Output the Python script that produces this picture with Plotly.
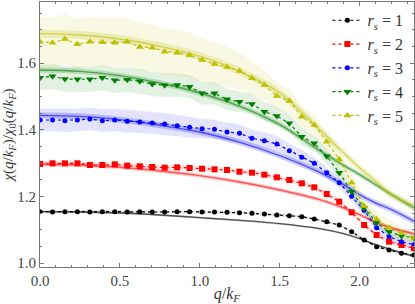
import plotly.graph_objects as go

# q/k_F grid of the QMC data points
q = [0.000, 0.078, 0.156, 0.234, 0.312, 0.390, 0.468, 0.546, 0.624, 0.702, 0.780,
     0.858, 0.936, 1.014, 1.092, 1.170, 1.248, 1.326, 1.404, 1.482, 1.560,
     1.638, 1.716, 1.794, 1.872, 1.950, 2.028, 2.106, 2.184, 2.262, 2.340]

rs1 = [1.154, 1.153, 1.154, 1.154, 1.153, 1.154, 1.154, 1.153, 1.154, 1.153, 1.153,
       1.154, 1.154, 1.153, 1.153, 1.152, 1.151, 1.149, 1.147, 1.144, 1.142,
       1.139, 1.132, 1.124, 1.114, 1.094, 1.069, 1.049, 1.039, 1.029, 1.024]
rs2 = [1.297, 1.299, 1.299, 1.299, 1.294, 1.294, 1.296, 1.292, 1.290, 1.288, 1.286,
       1.287, 1.285, 1.283, 1.281, 1.279, 1.274, 1.271, 1.265, 1.257, 1.249,
       1.239, 1.227, 1.207, 1.184, 1.152, 1.114, 1.084, 1.064, 1.054, 1.044]
rs3 = [1.429, 1.429, 1.427, 1.429, 1.432, 1.427, 1.429, 1.425, 1.423, 1.420, 1.417,
       1.412, 1.407, 1.403, 1.401, 1.393, 1.389, 1.374, 1.367, 1.357, 1.337,
       1.317, 1.299, 1.271, 1.241, 1.200, 1.158, 1.106, 1.079, 1.064, 1.055]
rs4 = [1.556, 1.560, 1.552, 1.551, 1.551, 1.556, 1.548, 1.550, 1.545, 1.537, 1.533,
       1.534, 1.529, 1.509, 1.509, 1.491, 1.484, 1.477, 1.454, 1.441, 1.419,
       1.379, 1.359, 1.320, 1.271, 1.214, 1.164, 1.121, 1.094, 1.081, 1.075]
rs5 = [1.664, 1.661, 1.672, 1.656, 1.664, 1.662, 1.661, 1.664, 1.648, 1.646, 1.634,
       1.631, 1.623, 1.609, 1.597, 1.588, 1.576, 1.554, 1.534, 1.501, 1.486,
       1.439, 1.414, 1.364, 1.311, 1.241, 1.171, 1.131, 1.106, 1.089, 1.075]

# statistical error of the QMC data
err1 = [0.004] * 31
err2 = [0.008] * 31
err3 = [0.034, 0.034, 0.034, 0.034, 0.034, 0.034, 0.034, 0.034, 0.033, 0.033, 0.033,
        0.032, 0.031, 0.030, 0.029, 0.028, 0.027, 0.026, 0.025, 0.024, 0.022,
        0.020, 0.018, 0.017, 0.016, 0.015, 0.014, 0.013, 0.012, 0.012, 0.012]
err4 = [0.038, 0.038, 0.038, 0.038, 0.038, 0.038, 0.038, 0.037, 0.037, 0.036, 0.036,
        0.035, 0.035, 0.034, 0.033, 0.032, 0.031, 0.030, 0.029, 0.028, 0.027,
        0.026, 0.024, 0.022, 0.020, 0.019, 0.017, 0.016, 0.015, 0.014, 0.014]
err5 = [0.075, 0.075, 0.075, 0.075, 0.074, 0.074, 0.073, 0.072, 0.071, 0.070, 0.070,
        0.069, 0.068, 0.066, 0.064, 0.060, 0.055, 0.050, 0.045, 0.040, 0.036,
        0.033, 0.031, 0.030, 0.029, 0.027, 0.025, 0.023, 0.022, 0.021, 0.020]

# theory curves
qt = [0.0, 0.25, 0.5, 0.75, 1.0, 1.25, 1.5, 1.75, 1.9, 2.0, 2.1, 2.2, 2.34]
th1 = [1.154, 1.153, 1.150, 1.144, 1.136, 1.128, 1.118, 1.103, 1.088, 1.073, 1.055, 1.040, 1.019]
th2 = [1.297, 1.294, 1.287, 1.276, 1.262, 1.243, 1.219, 1.190, 1.165, 1.145, 1.122, 1.105, 1.088]
th3 = [1.443, 1.440, 1.430, 1.413, 1.393, 1.362, 1.322, 1.272, 1.235, 1.205, 1.180, 1.160, 1.125]
th4 = [1.579, 1.575, 1.562, 1.540, 1.510, 1.470, 1.415, 1.337, 1.293, 1.265, 1.235, 1.205, 1.165]
th5 = [1.688, 1.684, 1.672, 1.650, 1.620, 1.575, 1.510, 1.400, 1.330, 1.285, 1.245, 1.205, 1.172]
th_err = [0.003, 0.006, 0.009, 0.008, 0.012]

labels = ["1", "2", "3", "4", "5"]
rgb = [(0, 0, 0), (255, 0, 0), (0, 0, 255), (0, 128, 0), (191, 191, 0)]
symbols = ["circle", "square", "circle", "triangle-down", "triangle-up"]
msizes = [5, 6, 5, 7, 7]

data = [rs1, rs2, rs3, rs4, rs5]
errs = [err1, err2, err3, err4, err5]
theo = [th1, th2, th3, th4, th5]

def rgba(c, a):
    return f"rgba({c[0]},{c[1]},{c[2]},{a})"

fig = go.Figure()

# data error bands
for d, e, c in zip(data, errs, rgb):
    up = [v + s for v, s in zip(d, e)]
    lo = [v - s for v, s in zip(d, e)]
    fig.add_trace(go.Scatter(x=q + q[::-1], y=up + lo[::-1], fill="toself",
                             fillcolor=rgba(c, 0.11), line=dict(width=0),
                             hoverinfo="skip", showlegend=False))

# theory bands and lines
for t, te, c in zip(theo, th_err, rgb):
    fig.add_trace(go.Scatter(x=qt, y=[v - te for v in t], mode="lines",
                             line=dict(width=0, shape="spline"), showlegend=False,
                             hoverinfo="skip"))
    fig.add_trace(go.Scatter(x=qt, y=[v + te for v in t], mode="lines",
                             line=dict(width=0, shape="spline"), fill="tonexty",
                             fillcolor=rgba(c, 0.2), showlegend=False, hoverinfo="skip"))
    fig.add_trace(go.Scatter(x=qt, y=t, mode="lines",
                             line=dict(color=rgba(c, 0.6), width=1.4, shape="spline"),
                             showlegend=False, hoverinfo="skip"))

# QMC data with markers
for d, c, lab, sym, ms in zip(data, rgb, labels, symbols, msizes):
    fig.add_trace(go.Scatter(x=q, y=d, mode="lines+markers",
                             line=dict(color=rgba(c, 1), width=1.2, dash="dot"),
                             marker=dict(symbol=sym, size=ms, color=rgba(c, 1), line=dict(width=0)),
                             name=f"<i>r<sub>s</sub></i> = {lab}"))

serif = "Times New Roman, Liberation Serif, serif"
axis_common = dict(showline=True, linecolor="#777", linewidth=1, mirror="ticks",
                   ticks="inside", ticklen=4, tickcolor="#777", showgrid=False,
                   zeroline=False, tickfont=dict(family=serif, size=15, color="#444"))

fig.update_layout(
    width=415, height=304,
    margin=dict(l=40, r=1, t=2, b=37),
    plot_bgcolor="white", paper_bgcolor="white",
    font=dict(family=serif, color="#333"),
    legend=dict(x=0.985, y=0.995, xanchor="right", yanchor="top", traceorder="normal",
                bgcolor="rgba(0,0,0,0)", font=dict(family=serif, size=16, color="#333"),
                tracegroupgap=0, itemwidth=30),
    xaxis=dict(range=[0, 2.34], dtick=0.5, tickformat=".1f",
               minor=dict(dtick=0.1, ticks="inside", ticklen=2, tickcolor="#777"),
               title=dict(text="<i>q</i>/<i>k<sub>F</sub></i>", font=dict(family=serif, size=16),
                          standoff=4),
               **axis_common),
    yaxis=dict(range=[0.988, 1.783], dtick=0.2, tickformat=".1f",
               minor=dict(dtick=0.05, ticks="inside", ticklen=2, tickcolor="#777"),
               title=dict(text="<i>χ</i>(<i>q</i>/<i>k<sub>F</sub></i>)/<i>χ</i><sub>0</sub>(<i>q</i>/<i>k<sub>F</sub></i>)",
                          font=dict(family=serif, size=15), standoff=2),
               **axis_common),
)

fig.write_html("out.html", config={"displayModeBar": False},
               post_script="document.body.style.margin='0px';")
